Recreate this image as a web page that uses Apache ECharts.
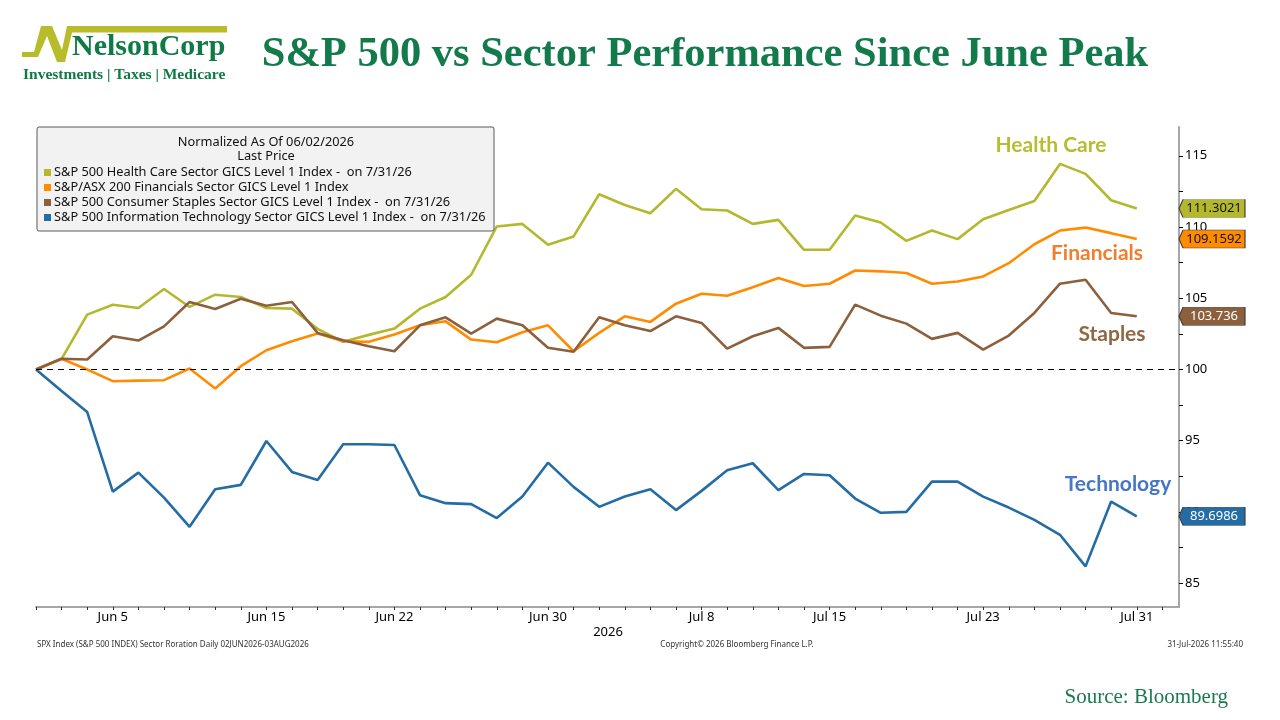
<!DOCTYPE html>
<html>
<head>
<meta charset="utf-8">
<script src="https://cdn.jsdelivr.net/npm/echarts@6/dist/echarts.min.js"></script>
<style>
html, body { margin: 0; padding: 0; background: #fff; }
#chart { width: 1280px; height: 720px; }
</style>
</head>
<body>
<div id="chart"></div>
<script>
// weekdays shown on the Bloomberg axis
var dates = ['Jun 2', 'Jun 3', 'Jun 4', 'Jun 5', 'Jun 8', 'Jun 9', 'Jun 10', 'Jun 11', 'Jun 12',
    'Jun 15', 'Jun 16', 'Jun 17', 'Jun 18', 'Jun 19', 'Jun 22', 'Jun 23', 'Jun 24', 'Jun 25', 'Jun 26',
    'Jun 29', 'Jun 30', 'Jul 1', 'Jul 2', 'Jul 3', 'Jul 6', 'Jul 7', 'Jul 8', 'Jul 9', 'Jul 10',
    'Jul 13', 'Jul 14', 'Jul 15', 'Jul 16', 'Jul 17', 'Jul 20', 'Jul 21', 'Jul 22', 'Jul 23', 'Jul 24',
    'Jul 27', 'Jul 28', 'Jul 29', 'Jul 30', 'Jul 31'];
var tickLabels = ['Jun 5', 'Jun 15', 'Jun 22', 'Jun 30', 'Jul 8', 'Jul 15', 'Jul 23', 'Jul 31'];
var yLabels = [85, 90, 95, 100, 105, 110, 115];
var yTicks = [85, 87.5, 90, 92.5, 95, 97.5, 100, 102.5, 105, 107.5, 110, 112.5, 115];

var healthCare = [100, 100.75, 103.85, 104.55, 104.32, 105.65, 104.39, 105.25, 105.09, 104.32, 104.27,
    102.85, 101.94, 102.43, 102.87, 104.27, 105.09, 106.65, 110.04, 110.22, 108.75, 109.34, 112.30,
    111.55, 110.97, 112.68, 111.25, 111.16, 110.22, 110.50, 108.40, 108.40, 110.81, 110.32, 109.03,
    109.76, 109.15, 110.55, 111.20, 111.83, 114.43, 113.73, 111.88, 111.3021];
var financials = [100, 100.75, 100.0, 99.18, 99.22, 99.25, 100.07, 98.67, 100.23, 101.35, 101.98,
    102.52, 101.98, 101.94, 102.45, 103.10, 103.38, 102.10, 101.91, 102.61, 103.10, 101.28, 102.57,
    103.73, 103.34, 104.62, 105.32, 105.18, 105.77, 106.42, 105.86, 106.02, 106.95, 106.89, 106.77,
    106.02, 106.18, 106.53, 107.46, 108.79, 109.75, 109.96, 109.57, 109.1592];
var staples = [100, 100.75, 100.70, 102.33, 102.03, 103.03, 104.74, 104.25, 104.97, 104.48, 104.74,
    102.57, 102.05, 101.63, 101.28, 103.10, 103.66, 102.52, 103.57, 103.10, 101.52, 101.24, 103.66,
    103.10, 102.70, 103.73, 103.27, 101.47, 102.33, 102.92, 101.52, 101.59, 104.55, 103.78, 103.22,
    102.15, 102.57, 101.40, 102.38, 103.97, 106.02, 106.30, 103.97, 103.736];
var technology = [100, 98.49, 97.01, 91.43, 92.76, 91.01, 88.96, 91.60, 91.90, 94.98, 92.81,
    92.25, 94.75, 94.75, 94.70, 91.18, 90.62, 90.55, 89.57, 91.08, 93.46, 91.76, 90.36,
    91.08, 91.60, 90.13, 91.48, 92.93, 93.42, 91.53, 92.67, 92.58, 90.94, 89.94, 90.01,
    92.13, 92.13, 91.08, 90.31, 89.45, 88.40, 86.18, 90.73, 89.6986];

var names = ['S&P 500 Health Care Sector GICS Level 1 Index -  on 7/31/26',
    'S&P/ASX 200 Financials Sector GICS Level 1 Index',
    'S&P 500 Consumer Staples Sector GICS Level 1 Index -  on 7/31/26',
    'S&P 500 Information Technology Sector GICS Level 1 Index -  on 7/31/26'];

var sans = 'Noto Sans';
var serif = 'Liberation Serif';
var xMax = 44.65;

var chart = echarts.init(document.getElementById('chart'));

function sectorSeries(name, values, color, tagText) {
    var last = values[values.length - 1];
    return {
        name: name,
        type: 'line',
        data: values.map(function (v, i) { return [i, v]; }),
        symbol: 'none',
        clip: false,
        lineStyle: { color: color, width: 2.6 },
        itemStyle: { color: color },
        markPoint: {
            silent: true,
            symbol: 'path://M0,9L4,0L66,0L66,18L4,18Z',
            symbolSize: [66, 18],
            symbolOffset: [33, 0],
            itemStyle: { color: color, borderColor: '#3a3a3a', borderWidth: 0.6 },
            label: {
                show: true, color: tagText, fontFamily: sans, fontSize: 13,
                offset: [2, 0], formatter: String(last)
            },
            data: [{ coord: [xMax, last] }]
        }
    };
}

function txt(text, x, y, font, fill, align) {
    return {
        type: 'text', z: 20,
        style: { text: text, x: x, y: y, font: font, fill: fill, textAlign: align || 'left', textVerticalAlign: 'middle' }
    };
}

var series = [
    sectorSeries(names[0], healthCare, '#b4b82c', '#111'),
    sectorSeries(names[1], financials, '#ff8c00', '#111'),
    sectorSeries(names[2], staples, '#8c603d', '#fff'),
    sectorSeries(names[3], technology, '#236ca6', '#fff')
];
series[3].markLine = {
    silent: true,
    symbol: 'none',
    label: { show: false },
    lineStyle: { color: '#000', type: [6, 5], width: 1.2 },
    data: [{ yAxis: 100 }]
};

var option = {
    animation: false,
    backgroundColor: '#fff',
    grid: { left: 36, right: 101, top: 127, bottom: 113 },
    xAxis: {
        type: 'value',
        min: 0,
        max: xMax,
        splitLine: { show: false },
        axisLine: { show: true, onZero: false, lineStyle: { color: '#a6a6a6', width: 2 } },
        axisTick: {
            show: true, length: 3, lineStyle: { color: '#333', width: 1 },
            customValues: dates.map(function (d, i) { return i; }).concat([dates.length])
        },
        axisLabel: {
            color: '#000', fontFamily: sans, fontSize: 13, margin: 4,
            customValues: tickLabels.map(function (t) { return dates.indexOf(t); }),
            formatter: function (v) { return dates[Math.round(v)] || ''; }
        }
    },
    yAxis: {
        type: 'value',
        position: 'right',
        min: 83.33,
        max: 117.02,
        splitLine: { show: false },
        axisLine: { show: true, onZero: false, lineStyle: { color: '#a6a6a6', width: 2 } },
        axisTick: { show: true, length: 4, lineStyle: { color: '#000', width: 1 }, customValues: yTicks },
        axisLabel: { color: '#000', fontFamily: sans, fontSize: 13, margin: 6, customValues: yLabels }
    },
    legend: {
        orient: 'vertical',
        left: 44,
        top: 166,
        padding: 0,
        itemGap: 2,
        itemWidth: 7,
        itemHeight: 7,
        icon: 'rect',
        z: 10,
        selectedMode: false,
        textStyle: { fontFamily: sans, fontSize: 12.8, color: '#111', lineHeight: 12, padding: [0, 0, 0, -2] },
        data: names
    },
    graphic: [
        // logo mark
        {
            type: 'polygon', z: 20,
            shape: { points: [[22, 52], [34, 52], [41, 26], [52, 26], [62, 50], [67, 26], [227, 26], [227, 32.5],
                [72, 32.5], [65, 62], [57, 62], [47, 36], [38, 57], [22, 57]] },
            style: { fill: '#b8bb2a' }
        },
        txt('NelsonCorp', 72, 47, 'bold 30px "' + serif + '"', '#0e7a45'),
        txt('Investments | Taxes | Medicare', 23, 75, 'bold 15.5px "' + serif + '"', '#0e7a45'),
        txt('S&P 500 vs Sector Performance Since June Peak', 705, 55, 'bold 42.5px "' + serif + '"', '#137a4b', 'center'),
        // legend box
        {
            type: 'rect', z: 5,
            shape: { x: 37, y: 127, width: 457, height: 104, r: 2 },
            style: { fill: '#f2f2f2', stroke: '#5a5a5a', lineWidth: 1 }
        },
        txt('Normalized As Of 06/02/2026', 266, 142, '12.8px "' + sans + '"', '#111', 'center'),
        txt('Last Price', 266, 156.5, '12.8px "' + sans + '"', '#111', 'center'),
        // line annotations
        txt('Health Care', 1051, 145, 'bold 21px Lato', '#b6bd32', 'center'),
        txt('Financials', 1097, 253, 'bold 21px Lato', '#f07e2e', 'center'),
        txt('Staples', 1112, 334, 'bold 21px Lato', '#8e6743', 'center'),
        txt('Technology', 1118, 484, 'bold 21px Lato', '#4677c5', 'center'),
        // footer
        txt('2026', 608, 632, '13px "' + sans + '"', '#000', 'center'),
        txt('SPX Index (S&P 500 INDEX) Sector Roration Daily 02JUN2026-03AUG2026', 37, 645, '8px "' + sans + '"', '#333'),
        txt('Copyright\u00a9 2026 Bloomberg Finance L.P.', 737, 645, '8px "' + sans + '"', '#333', 'center'),
        txt('31-Jul-2026 11:55:40', 1243, 645, '8px "' + sans + '"', '#333', 'right'),
        txt('Source: Bloomberg', 1228, 697, '21px "' + serif + '"', '#1a7a50', 'right')
    ],
    series: series
};

chart.setOption(option);
</script>
</body>
</html>
